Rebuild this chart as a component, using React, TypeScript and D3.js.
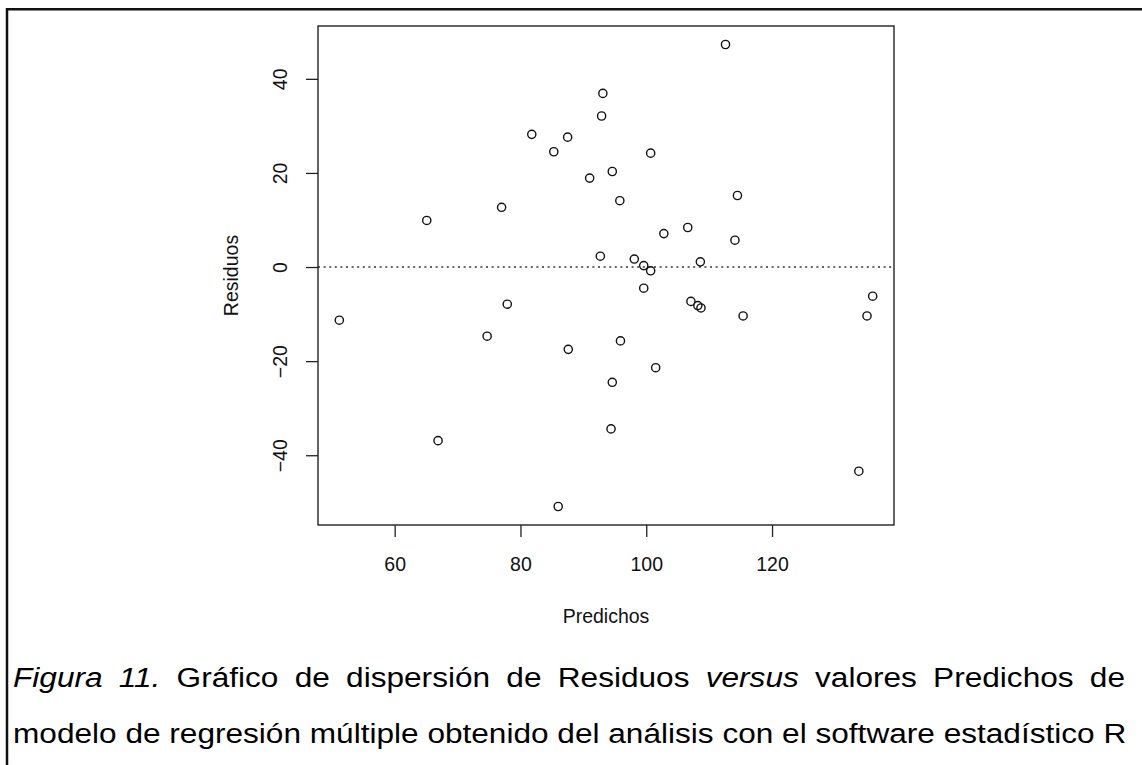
import { axisBottom, axisLeft, scaleLinear, select } from "d3";
import { useEffect, useRef } from "react";

// valores (residuos vs predichos)
const predichos = [
    112.6, 93.1, 92.9, 81.8, 87.5, 85.3, 100.7, 94.6, 91.0, 114.5, 95.8, 77.0,
    65.1, 106.6, 102.8, 114.1, 92.7, 98.1, 108.6, 99.6, 100.7, 99.6, 107.1,
    108.2, 108.7, 115.4, 136.0, 135.1, 95.9, 101.5, 94.6, 94.4, 133.8, 51.2,
    77.9, 74.7, 87.6, 66.9, 86.0,
];
const residuos = [
    47.3, 36.9, 32.1, 28.2, 27.6, 24.5, 24.2, 20.3, 18.9, 15.2, 14.1, 12.7,
    9.9, 8.4, 7.1, 5.7, 2.3, 1.7, 1.1, 0.3, -0.8, -4.5, -7.3, -8.2, -8.7,
    -10.4, -6.2, -10.4, -15.7, -21.4, -24.5, -34.4, -43.4, -11.3, -7.9, -14.7,
    -17.5, -36.9, -50.9,
];
const xTicks = [60, 80, 100, 120];
const yTicks = [-40, -20, 0, 20, 40];

const captionLine1 = [
    { w: "Figura", it: true },
    { w: "11.", it: true },
    { w: "Gráfico", it: false },
    { w: "de", it: false },
    { w: "dispersión", it: false },
    { w: "de", it: false },
    { w: "Residuos", it: false },
    { w: "versus", it: true },
    { w: "valores", it: false },
    { w: "Predichos", it: false },
    { w: "de", it: false },
];
const captionLine2 =
    "modelo de regresión múltiple obtenido del análisis con el software estadístico R";

const FONT = "Liberation Sans, Arial, Helvetica, sans-serif";
const LABEL_SIZE = 19.5;
const CAPTION_SIZE = 27;

function App() {
    const svgRef = useRef(null);

    useEffect(() => {
        const svg: any = select(svgRef.current);
        svg.selectAll("*").remove();

        const left = 318,
            right = 894,
            top = 26,
            bottom = 525;

        // R: rango de datos + 4% a cada lado
        const xMin = Math.min(...predichos),
            xMax = Math.max(...predichos);
        const yMin = Math.min(...residuos),
            yMax = Math.max(...residuos);
        const xPad = (xMax - xMin) * 0.04;
        const yPad = (yMax - yMin) * 0.04;

        const x = scaleLinear()
            .domain([xMin - xPad, xMax + xPad])
            .range([left, right]);
        const y = scaleLinear()
            .domain([yMin - yPad, yMax + yPad])
            .range([bottom, top]);

        // marco exterior
        svg.append("path")
            .attr("d", "M7,765 L7,9.3 L1142,9.3")
            .attr("fill", "none")
            .attr("stroke", "#111")
            .attr("stroke-width", 2.5);

        // ejes
        const xAxis = axisBottom(x).tickValues(xTicks).tickSize(12);
        const gx = svg.append("g")
            .attr("transform", `translate(0, ${bottom})`)
            .call(xAxis);
        gx.select(".domain").remove();
        gx.selectAll("line").attr("stroke", "#222").attr("stroke-width", 1.3);
        gx.selectAll("text")
            .attr("font-family", FONT)
            .attr("font-size", LABEL_SIZE)
            .attr("fill", "#111")
            .attr("y", 46)
            .attr("dy", null);

        const yAxis = axisLeft(y).tickValues(yTicks).tickSize(12);
        const gy = svg.append("g")
            .attr("transform", `translate(${left}, 0)`)
            .call(yAxis);
        gy.select(".domain").remove();
        gy.selectAll("line").attr("stroke", "#222").attr("stroke-width", 1.3);
        gy.selectAll("text")
            .attr("font-family", FONT)
            .attr("font-size", LABEL_SIZE)
            .attr("fill", "#111")
            .attr("x", null)
            .attr("dy", null)
            .attr("text-anchor", "middle")
            .attr("transform", "translate(-31, 0) rotate(-90)");

        // linea de referencia en 0
        svg.append("line")
            .attr("x1", left)
            .attr("x2", right)
            .attr("y1", y(0))
            .attr("y2", y(0))
            .attr("stroke", "#333")
            .attr("stroke-width", 1.6)
            .attr("stroke-dasharray", "2,3.6");

        // caja del grafico
        svg.append("rect")
            .attr("x", left)
            .attr("y", top)
            .attr("width", right - left)
            .attr("height", bottom - top)
            .attr("fill", "none")
            .attr("stroke", "#222")
            .attr("stroke-width", 1.4);

        // puntos
        svg.selectAll(".pt")
            .data(predichos.map((p, i) => ({ p, r: residuos[i] })))
            .enter()
            .append("circle")
            .attr("class", "pt")
            .attr("cx", (d: any) => x(d.p))
            .attr("cy", (d: any) => y(d.r))
            .attr("r", 4.1)
            .attr("fill", "none")
            .attr("stroke", "#111")
            .attr("stroke-width", 1.4);

        // titulos de ejes
        svg.append("text")
            .attr("x", (left + right) / 2)
            .attr("y", 623)
            .attr("text-anchor", "middle")
            .attr("font-family", FONT)
            .attr("font-size", LABEL_SIZE)
            .attr("fill", "#111")
            .text("Predichos");

        svg.append("text")
            .attr("transform", `translate(238, ${(top + bottom) / 2}) rotate(-90)`)
            .attr("text-anchor", "middle")
            .attr("font-family", FONT)
            .attr("font-size", LABEL_SIZE)
            .attr("fill", "#111")
            .text("Residuos");

        // pie de figura: la segunda linea define el ancho, la primera se justifica
        const x0 = 13,
            x1 = 1127;
        const cap = svg.append("g");
        const line2 = cap.append("text")
            .attr("x", 0)
            .attr("y", 743)
            .attr("font-family", FONT)
            .attr("font-size", CAPTION_SIZE)
            .attr("fill", "#000")
            .text(captionLine2);
        const natural = line2.node().getComputedTextLength();
        const sx = (x1 - x0) / natural;
        cap.attr("transform", `translate(${x0}, 0) scale(${sx}, 1)`);

        const nodes = captionLine1.map((d) =>
            cap.append("text")
                .attr("y", 687)
                .attr("font-family", FONT)
                .attr("font-size", CAPTION_SIZE)
                .attr("font-style", d.it ? "italic" : "normal")
                .attr("fill", "#000")
                .text(d.w)
        );
        const widths = nodes.map((n: any) => n.node().getComputedTextLength());
        const total = widths.reduce((a: number, b: number) => a + b, 0);
        const gap = (natural - 2 / sx - total) / (captionLine1.length - 1);
        let cx = 0;
        nodes.forEach((n: any, i: number) => {
            n.attr("x", cx);
            cx += widths[i] + gap;
        });
    }, []);

    return (
        <svg
            ref={svgRef}
            width={1142}
            height={765}
            style={{ position: "absolute", left: 0, top: 0, background: "#fff" }}
        />
    );
}

export default App;
